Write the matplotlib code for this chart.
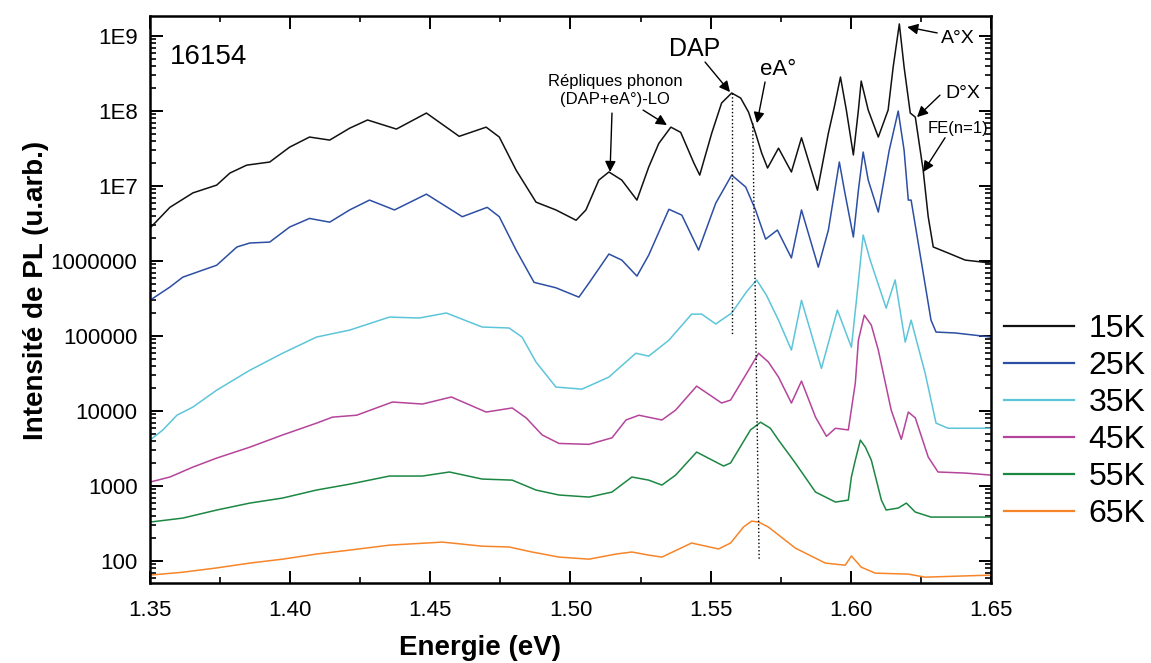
import numpy as np
import matplotlib
matplotlib.use("Agg")
import matplotlib.pyplot as plt
from matplotlib.ticker import FixedLocator, LogLocator, NullFormatter, MultipleLocator

plt.rcParams['font.family'] = ['Liberation Sans', 'DejaVu Sans']

# --- data (energy in eV, PL intensity in arb. units) ---
labels = ["15K", "25K", "35K", "45K", "55K", "65K"]
colors = ["#111111", "#2c4ea3", "#5dc5d9", "#b5449b", "#1c8743", "#f6852a"]

e_15 = [1.3500, 1.3571, 1.3653, 1.3738, 1.3785, 1.3845, 1.3927, 1.3998, 1.4069, 1.4141,
        1.4212, 1.4276, 1.4379, 1.4486, 1.4603, 1.4699, 1.4746, 1.4806, 1.4877, 1.4948,
        1.5020, 1.5055, 1.5101, 1.5137, 1.5183, 1.5237, 1.5279, 1.5315, 1.5358, 1.5393,
        1.5440, 1.5461, 1.5504, 1.5539, 1.5575, 1.5607, 1.5635, 1.5660, 1.5682, 1.5703,
        1.5742, 1.5788, 1.5824, 1.5881, 1.5920, 1.5941, 1.5963, 1.5984, 1.6009, 1.6027,
        1.6037, 1.6062, 1.6098, 1.6133, 1.6151, 1.6173, 1.6190, 1.6212, 1.6230, 1.6258,
        1.6276, 1.6294, 1.6347, 1.6408, 1.6500]
i_15 = [2.75e6, 5.2e6, 8.1e6, 1.03e7, 1.49e7, 1.9e7, 2.09e7, 3.3e7, 4.5e7, 4.1e7,
        5.9e7, 7.6e7, 5.75e7, 9.4e7, 4.6e7, 6.1e7, 4.5e7, 1.63e7, 6.1e6, 4.8e6,
        3.5e6, 4.8e6, 1.2e7, 1.54e7, 1.2e7, 6.5e6, 1.79e7, 3.7e7, 6.1e7, 5.2e7,
        2.03e7, 1.4e7, 5.1e7, 1.28e8, 1.74e8, 1.49e8, 9.7e7, 5.1e7, 2.75e7, 1.74e7,
        3.2e7, 1.54e7, 4.4e7, 8.8e6, 5.1e7, 1.13e8, 2.84e8, 1.03e8, 2.6e7, 1.03e8,
        2.51e8, 1.03e8, 4.5e7, 1.03e8, 3.86e8, 1.45e9, 3.86e8, 9.4e7, 8.3e7, 1.63e7,
        3.9e6, 1.54e6, 1.28e6, 1.03e6, 9.4e5]

e_25 = [1.3500, 1.3571, 1.3617, 1.3738, 1.3810, 1.3856, 1.3927, 1.3998, 1.4069, 1.4141,
        1.4212, 1.4283, 1.4372, 1.4486, 1.4614, 1.4703, 1.4746, 1.4806, 1.4870, 1.4948,
        1.5030, 1.5066, 1.5137, 1.5183, 1.5237, 1.5279, 1.5351, 1.5397, 1.5457, 1.5518,
        1.5575, 1.5625, 1.5660, 1.5696, 1.5738, 1.5788, 1.5824, 1.5884, 1.5920, 1.5959,
        1.5977, 1.6009, 1.6027, 1.6044, 1.6062, 1.6098, 1.6137, 1.6169, 1.6190, 1.6205,
        1.6215, 1.6286, 1.6304, 1.6372, 1.6500]
i_25 = [3.0e5, 4.5e5, 6.1e5, 8.8e5, 1.54e6, 1.74e6, 1.79e6, 2.84e6, 3.7e6, 3.3e6,
        4.8e6, 6.5e6, 4.8e6, 7.8e6, 3.9e6, 5.2e6, 3.9e6, 1.4e6, 5.2e5, 4.4e5,
        3.3e5, 5.1e5, 1.24e6, 1.03e6, 6.3e5, 1.2e6, 4.9e6, 4.1e6, 1.4e6, 5.9e6,
        1.4e7, 9.7e6, 4.8e6, 1.96e6, 2.59e6, 1.1e6, 4.8e6, 8.3e5, 2.6e6, 2.09e7,
        8.8e6, 2.09e6, 8.8e6, 2.84e7, 1.2e7, 4.5e6, 3.0e7, 1.0e8, 3.0e7, 6.5e6,
        6.5e6, 1.63e5, 1.13e5, 1.1e5, 9.7e4]

e_35 = [1.3500, 1.3546, 1.3596, 1.3653, 1.3738, 1.3856, 1.3973, 1.4094, 1.4212, 1.4354,
        1.4461, 1.4557, 1.4639, 1.4685, 1.4781, 1.4827, 1.4877, 1.4948, 1.5041, 1.5137,
        1.5233, 1.5279, 1.5351, 1.5432, 1.5468, 1.5518, 1.5575, 1.5628, 1.5664, 1.5699,
        1.5742, 1.5788, 1.5824, 1.5895, 1.5952, 1.6002, 1.6020, 1.6044, 1.6069, 1.6126,
        1.6158, 1.6194, 1.6215, 1.6265, 1.6304, 1.6347, 1.6500]
i_35 = [4.1e3, 5.6e3, 8.8e3, 1.13e4, 1.9e4, 3.5e4, 5.9e4, 9.7e4, 1.2e5, 1.79e5,
        1.74e5, 2.03e5, 1.54e5, 1.32e5, 1.28e5, 9.7e4, 4.5e4, 2.09e4, 1.96e4, 2.84e4,
        5.9e4, 5.4e4, 8.8e4, 1.96e5, 1.96e5, 1.45e5, 2.03e5, 3.9e5, 5.6e5, 3.5e5,
        1.63e5, 6.5e4, 3.0e5, 3.7e4, 2.22e5, 7.1e4, 3.0e5, 2.22e6, 1.03e6, 2.36e5,
        5.6e5, 8.3e4, 1.63e5, 3.2e4, 6.9e3, 5.9e3, 5.9e3]

e_45 = [1.3500, 1.3571, 1.3653, 1.3738, 1.3856, 1.3973, 1.4094, 1.4151, 1.4237, 1.4365,
        1.4472, 1.4575, 1.4699, 1.4792, 1.4842, 1.4899, 1.4959, 1.5066, 1.5148, 1.5198,
        1.5244, 1.5326, 1.5375, 1.5450, 1.5539, 1.5571, 1.5635, 1.5671, 1.5706, 1.5742,
        1.5788, 1.5824, 1.5874, 1.5913, 1.5945, 1.5991, 1.6016, 1.6027, 1.6048, 1.6073,
        1.6098, 1.6144, 1.6180, 1.6205, 1.6230, 1.6276, 1.6311, 1.6408, 1.6500]
i_45 = [1.13e3, 1.32e3, 1.79e3, 2.36e3, 3.3e3, 4.8e3, 6.9e3, 8.3e3, 8.8e3, 1.32e4,
        1.24e4, 1.54e4, 9.7e3, 1.1e4, 8.1e3, 4.8e3, 3.7e3, 3.6e3, 4.4e3, 7.6e3,
        8.8e3, 7.6e3, 1.03e4, 2.15e4, 1.28e4, 1.4e4, 3.5e4, 5.9e4, 4.5e4, 2.84e4,
        1.28e4, 2.51e4, 8.3e3, 4.6e3, 5.9e3, 5.6e3, 2.36e4, 8.8e4, 1.9e5, 1.4e5,
        6.5e4, 1.03e4, 4.2e3, 9.7e3, 8.1e3, 2.44e3, 1.54e3, 1.49e3, 1.4e3]

e_55 = [1.3500, 1.3617, 1.3738, 1.3856, 1.3973, 1.4094, 1.4212, 1.4354, 1.4472, 1.4568,
        1.4685, 1.4792, 1.4877, 1.4959, 1.5066, 1.5148, 1.5219, 1.5279, 1.5326, 1.5375,
        1.5450, 1.5546, 1.5571, 1.5642, 1.5678, 1.5713, 1.5742, 1.5802, 1.5874, 1.5945,
        1.5991, 1.6002, 1.6016, 1.6034, 1.6052, 1.6073, 1.6109, 1.6126, 1.6169, 1.6198,
        1.6230, 1.6286, 1.6500]
i_55 = [331, 374, 479, 593, 692, 885, 1060, 1360, 1360, 1540,
        1240, 1200, 885, 760, 713, 832, 1320, 1200, 1030, 1400,
        2840, 1850, 2030, 5600, 7100, 5900, 4100, 2030, 832, 612,
        650, 1320, 2220, 4100, 3300, 2220, 650, 479, 509, 593,
        450, 386, 386]

e_65 = [1.3500, 1.3617, 1.3738, 1.3856, 1.3973, 1.4094, 1.4212, 1.4354, 1.4543, 1.4685,
        1.4781, 1.4863, 1.4959, 1.5066, 1.5162, 1.5219, 1.5279, 1.5326, 1.5432, 1.5528,
        1.5571, 1.5617, 1.5646, 1.5671, 1.5706, 1.5802, 1.5909, 1.5980, 1.6002, 1.6037,
        1.6087, 1.6205, 1.6265, 1.6500]
i_65 = [65, 71, 81, 94, 106, 124, 140, 163, 179, 158,
        154, 132, 113, 106, 124, 132, 120, 113, 174, 145,
        174, 284, 341, 331, 284, 149, 94, 88, 117, 83,
        69, 67, 61, 65]

energies = [e_15, e_25, e_35, e_45, e_55, e_65]
intensities = [i_15, i_25, i_35, i_45, i_55, i_65]

ytick_vals = [1e2, 1e3, 1e4, 1e5, 1e6, 1e7, 1e8, 1e9]
ytick_labels = ["100", "1000", "10000", "100000", "1000000", "1E7", "1E8", "1E9"]
xtick_vals = [1.35, 1.40, 1.45, 1.50, 1.55, 1.60, 1.65]

fig = plt.figure(figsize=(11.51, 6.63), dpi=100)
ax = fig.add_axes([150/1151, 1 - 583/663, 841/1151, 567/663])

lines = []
for e, i, c, lab in zip(energies, intensities, colors, labels):
    ln, = ax.plot(e, i, color=c, lw=1.1, label=lab)
    lines.append(ln)

ax.set_yscale('log')
ax.set_xlim(1.35, 1.65)
ax.set_ylim(51, 1.85e9)

ax.yaxis.set_major_locator(FixedLocator(ytick_vals))
ax.set_yticklabels(ytick_labels)
ax.yaxis.set_minor_locator(LogLocator(base=10, subs=np.arange(2, 10)))
ax.yaxis.set_minor_formatter(NullFormatter())
ax.set_xticks(xtick_vals)
ax.set_xticklabels([f"{v:.2f}" for v in xtick_vals])
ax.xaxis.set_minor_locator(MultipleLocator(0.025))

ax.tick_params(which='both', direction='in', top=True, right=True, labelsize=16)
ax.tick_params(which='major', length=9, width=1.4)
ax.tick_params(which='minor', length=4.5, width=1.2)
ax.tick_params(axis='x', pad=12)
ax.tick_params(axis='y', pad=9)
for sp in ax.spines.values():
    sp.set_linewidth(1.8)

# dotted guides at DAP and eA° positions
ax.plot([1.5575, 1.5575], [1.74e8, 1.06e5], color='k', lw=1, ls=':')
ax.plot([1.5650, 1.5673], [6.9e7, 103], color='k', lw=1, ls=':')

# annotations
ax.text(1.3710, 5.2e8, "16154", fontsize=20, ha='center', va='center')
ax.text(1.5159, 1.9e8, "Répliques phonon\n(DAP+eA°)-LO", fontsize=12,
        ha='center', va='center', multialignment='center', linespacing=1.25)
ax.text(1.5444, 6.7e8, "DAP", fontsize=18, ha='center', va='center')
ax.text(1.5740, 3.6e8, "eA°", fontsize=16, ha='center', va='center')
ax.text(1.6383, 9.4e8, "A°X", fontsize=14, ha='center', va='center', clip_on=False)
ax.text(1.6401, 1.74e8, "D°X", fontsize=14, ha='center', va='center', clip_on=False)
ax.text(1.6383, 5.9e7, "FE(n=1)", fontsize=12, ha='center', va='center', clip_on=False)

arrows = [
    ((1.5148, 9.4e7), (1.5141, 1.54e7)),
    ((1.5259, 1.03e8), (1.5344, 6.5e7)),
    ((1.5480, 4.5e8), (1.5569, 1.79e8)),
    ((1.5694, 2.44e8), (1.5665, 6.9e7)),
    ((1.6308, 1.1e9), (1.6201, 1.32e9)),
    ((1.6318, 1.63e8), (1.6236, 8.3e7)),
    ((1.6336, 4.4e7), (1.6258, 1.54e7)),
]
for tail, tip in arrows:
    ax.annotate("", xy=tip, xytext=tail,
                arrowprops=dict(arrowstyle='-|>', color='k', lw=1,
                                mutation_scale=16, shrinkA=0, shrinkB=0))

fig.text(36/1151, 1 - 290/663, "Intensité de PL (u.arb.)", rotation=90,
         fontsize=20, fontweight='bold', ha='center', va='center')
fig.text(480/1151, 1 - 655/663, "Energie (eV)", fontsize=20, fontweight='bold',
         ha='center', va='baseline')

leg = fig.legend(handles=lines, loc='upper left', bbox_to_anchor=(1004/1151, 1 - 314/663),
                 frameon=False, fontsize=23, borderpad=0, borderaxespad=0,
                 handlelength=2.2, handletextpad=0.45, labelspacing=0.22)
for h in leg.legend_handles:
    h.set_linewidth(1.6)

fig.savefig("out.png", dpi=100)
